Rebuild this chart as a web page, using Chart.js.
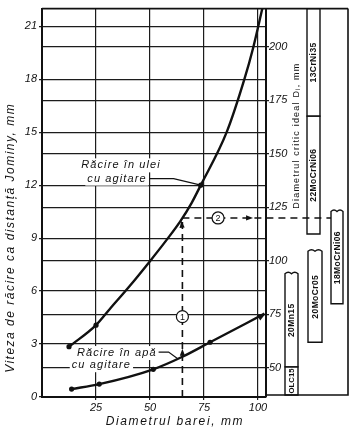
<!DOCTYPE html>
<html><head><meta charset="utf-8">
<script src="https://cdn.jsdelivr.net/npm/chart.js@4.4.1/dist/chart.umd.min.js"></script>
<style>html,body{margin:0;padding:0;background:#fff;}#wrap{width:354px;height:435px;}</style>
</head><body><div id="wrap"><canvas id="c" width="354" height="435"></canvas></div>
<script>
// ---- data ----
const oilX = [12.5, 25, 31.5, 40.7, 49.7, 57.7, 64, 69.3, 73.5, 85.5, 93.7, 97.8, 102];
const oilY = [2.85, 4.07, 5.0, 6.3, 7.65, 8.9, 9.95, 11.0, 12.0, 15.0, 18.0, 19.8, 22.0];
const oilDotX = [12.5, 25, 73.5];
const oilDotY = [2.85, 4.07, 12.0];
const waterX = [13.7, 26.5, 51.5, 65, 77.8, 103];
const waterY = [0.45, 0.73, 1.57, 2.28, 3.1, 4.72];
const waterDotX = [13.7, 26.5, 51.5, 77.8];
const waterDotY = [0.45, 0.73, 1.57, 3.1];
const xTicks = [25, 50, 75, 100];
const jominyTicks = [0, 3, 6, 9, 12, 15, 18, 21];
const diTicks = [50, 75, 100, 125, 150, 175, 200];
const exampleDiameter = 65;   // (1)
const exampleJominy = 10.1;
const exampleDi = 120;        // (2)
const steelNames = ["OLC15", "20Mn15", "20MoCr05", "18MoCrNi06", "22MoCrNi06", "13CrNi35"];
const steelDiMin = [36, 50.5, 62, 80, 112.5, 167.5];
const steelDiMax = [50.5, 94, 104.5, 123, 167.5, 230];
const xTitle = "Diametrul barei, mm";
const yTitle = "Viteza de răcire ca distanță Jominy, mm";
const y2Title = "Diametrul critic ideal Dᵢ, mm";

const FF = '"Liberation Sans", "DejaVu Sans", Arial, sans-serif';
const INK = '#111';

function spacing(ctx, px) { if ('letterSpacing' in ctx) ctx.letterSpacing = px + 'px'; }
function arrowHead(ctx, tx, ty, ang, len, hw) {
  ctx.save();
  ctx.translate(tx, ty); ctx.rotate(ang);
  ctx.beginPath(); ctx.moveTo(0, 0); ctx.lineTo(-len, -hw); ctx.lineTo(-len, hw); ctx.closePath();
  ctx.fillStyle = INK; ctx.fill();
  ctx.restore();
}
function circled(ctx, cx, cy, txt) {
  ctx.save();
  ctx.beginPath(); ctx.arc(cx, cy, 6, 0, Math.PI * 2);
  ctx.fillStyle = '#fff'; ctx.fill();
  ctx.lineWidth = 1.2; ctx.strokeStyle = INK; ctx.stroke();
  ctx.fillStyle = INK; ctx.font = '9px ' + FF; ctx.textAlign = 'center'; ctx.textBaseline = 'middle';
  ctx.fillText(txt, cx, cy + 0.5);
  ctx.restore();
}

const annot = {
  id: 'annot',
  beforeDatasetsDraw(chart) {
    const { ctx, scales: { x, y } } = chart;
    ctx.save();
    ctx.font = 'italic 11px ' + FF;
    spacing(ctx, 1.1);
    ctx.textAlign = 'left'; ctx.textBaseline = 'middle';
    const labels = [
      { t: 'Răcire în ulei', x: 36.6, y: 13.12 },
      { t: 'cu agitare', x: 34.7, y: 12.37 },
      { t: 'Răcire în apă', x: 34.6, y: 2.49 },
      { t: 'cu agitare', x: 27.5, y: 1.80 }
    ];
    const ends = [];
    labels.forEach(l => {
      const w = ctx.measureText(l.t).width;
      const cx = x.getPixelForValue(l.x), cy = y.getPixelForValue(l.y);
      ctx.fillStyle = '#fff';
      ctx.fillRect(cx - w / 2 - 2, cy - 7, w + 4, 14);
      ctx.fillStyle = INK;
      ctx.fillText(l.t, cx - w / 2, cy);
      ends.push({ x: cx + w / 2, y: cy });
    });
    // leader lines
    ctx.strokeStyle = INK; ctx.lineWidth = 1.2;
    ctx.beginPath();
    ctx.moveTo(ends[1].x + 3, ends[1].y);
    ctx.lineTo(ends[1].x + 27, ends[1].y);
    ctx.lineTo(x.getPixelForValue(oilDotX[2]), y.getPixelForValue(oilDotY[2]));
    ctx.stroke();
    ctx.beginPath();
    ctx.moveTo(ends[2].x + 2, ends[2].y - 1);
    ctx.lineTo(ends[2].x + 12, ends[2].y - 1);
    ctx.lineTo(x.getPixelForValue(63), y.getPixelForValue(2.15));
    ctx.stroke();
    ctx.restore();
  },
  afterDatasetsDraw(chart) {
    const { ctx, chartArea: a, scales: { x, y, y2 } } = chart;
    const pr = chart.width - 6;
    ctx.save();
    ctx.strokeStyle = INK; ctx.fillStyle = INK;
    // frame: top line, panel right and bottom
    ctx.lineWidth = 1.6;
    ctx.beginPath();
    ctx.moveTo(a.left, a.top); ctx.lineTo(pr, a.top);
    ctx.moveTo(pr, a.top); ctx.lineTo(pr, a.bottom - 2);
    ctx.lineTo(a.right, a.bottom - 2);
    ctx.stroke();

    // steel ranges
    const cols = { 'OLC15': [19, 32], '20Mn15': [19, 32], '20MoCr05': [42, 56], '18MoCrNi06': [65, 77], '22MoCrNi06': [41, 54], '13CrNi35': [41, 54] };
    const wavy = { '20Mn15': 1, '20MoCr05': 1, '18MoCrNi06': 1 };
    ctx.lineWidth = 1.4;
    steelNames.forEach((n, i) => {
      const xl = a.right + cols[n][0], xr = a.right + cols[n][1];
      const yt = Math.max(a.top, y2.getPixelForValue(steelDiMax[i]));
      const yb = Math.min(a.bottom - 2, y2.getPixelForValue(steelDiMin[i]));
      const w = xr - xl;
      ctx.beginPath();
      if (wavy[n]) {
        ctx.moveTo(xl, yb); ctx.lineTo(xl, yt);
        ctx.quadraticCurveTo(xl + w / 4, yt - 3, xl + w / 2, yt);
        ctx.quadraticCurveTo(xl + 3 * w / 4, yt - 3, xr, yt);
        ctx.lineTo(xr, yb); ctx.closePath();
      } else {
        ctx.rect(xl, yt, w, yb - yt);
      }
      ctx.stroke();
      ctx.save();
      ctx.translate((xl + xr) / 2 + 0.5, (yt + yb) / 2);
      ctx.rotate(-Math.PI / 2);
      let fs = 8.5;
      ctx.font = 'bold ' + fs + 'px ' + FF; spacing(ctx, 0.4);
      const avail = (yb - yt) - 3;
      const tw = ctx.measureText(n).width;
      if (tw > avail) {
        spacing(ctx, 0);
        fs = Math.max(6, fs * avail / ctx.measureText(n).width);
        ctx.font = 'bold ' + fs.toFixed(1) + 'px ' + FF;
      }
      ctx.textAlign = 'center'; ctx.textBaseline = 'middle';
      ctx.fillText(n, 0, 0);
      ctx.restore();
    });

    // panel title
    ctx.save();
    ctx.translate(a.right + 31, a.top + 127);
    ctx.rotate(-Math.PI / 2);
    ctx.font = '9px ' + FF; spacing(ctx, 1.2);
    ctx.textAlign = 'center'; ctx.textBaseline = 'middle';
    ctx.fillText(y2Title, 0, 0);
    ctx.restore();

    // worked example: dashed construction lines
    const px65 = x.getPixelForValue(exampleDiameter);
    const pyOil = y.getPixelForValue(exampleJominy);
    const pyDi = y2.getPixelForValue(exampleDi);
    ctx.lineWidth = 1.6; ctx.setLineDash([7, 5]);
    ctx.beginPath();
    ctx.moveTo(px65, a.bottom); ctx.lineTo(px65, pyOil);
    ctx.moveTo(px65, pyDi); ctx.lineTo(a.right + 65, pyDi);
    ctx.stroke();
    ctx.setLineDash([]);
    const pyWater = y.getPixelForValue(2.28);
    arrowHead(ctx, px65, pyWater - 8, -Math.PI / 2, 7, 2.6);
    arrowHead(ctx, px65 - 1, pyOil + 2, -Math.PI / 2 - 0.1, 7, 2.6);
    arrowHead(ctx, x.getPixelForValue(97.7), pyDi, 0, 7, 2.6);
    circled(ctx, px65, y.getPixelForValue(4.55), '1');
    circled(ctx, x.getPixelForValue(81.5), pyDi, '2');

    // arrow at the end of the water curve
    const n = waterX.length;
    const ex = x.getPixelForValue(waterX[n - 1]), ey = y.getPixelForValue(waterY[n - 1]);
    arrowHead(ctx, ex + 1, ey, -0.55, 8, 3);

    // axis titles
    ctx.font = 'italic 12px ' + FF; spacing(ctx, 1.6);
    ctx.textAlign = 'center'; ctx.textBaseline = 'middle';
    ctx.fillText(xTitle, a.left + 133, 422);
    ctx.save();
    ctx.translate(11, (a.top + a.bottom) / 2 + 35);
    ctx.rotate(-Math.PI / 2);
    spacing(ctx, 1.5);
    ctx.fillText(yTitle, 0, 0);
    ctx.restore();
    ctx.restore();
  }
};

const tickFont = { family: FF, size: 11, style: 'italic' };
const gridStyle = { color: '#1c1c1c', lineWidth: 1.2, tickLength: 3, tickColor: '#1c1c1c' };

new Chart(document.getElementById('c'), {
  type: 'scatter',
  data: {
    datasets: [
      { data: oilX.map((v, i) => ({ x: v, y: oilY[i] })), showLine: true, borderColor: INK, borderWidth: 2.4,
        pointRadius: 0, cubicInterpolationMode: 'monotone', yAxisID: 'y', clip: 4 },
      { data: waterX.map((v, i) => ({ x: v, y: waterY[i] })), showLine: true, borderColor: INK, borderWidth: 2.4,
        pointRadius: 0, cubicInterpolationMode: 'monotone', yAxisID: 'y', clip: 4 },
      { data: oilDotX.map((v, i) => ({ x: v, y: oilDotY[i] })), showLine: false, pointRadius: 2.6,
        pointBackgroundColor: INK, pointBorderWidth: 0, yAxisID: 'y' },
      { data: waterDotX.map((v, i) => ({ x: v, y: waterDotY[i] })), showLine: false, pointRadius: 2.6,
        pointBackgroundColor: INK, pointBorderWidth: 0, yAxisID: 'y' }
    ]
  },
  options: {
    responsive: false, animation: false, devicePixelRatio: 1,
    layout: { padding: { left: 0, right: 6, top: 5, bottom: 0 } },
    plugins: { legend: { display: false }, tooltip: { enabled: false } },
    scales: {
      x: {
        type: 'linear', min: 0, max: 103.7,
        afterBuildTicks: s => { s.ticks = xTicks.map(v => ({ value: v })); },
        afterFit: s => { s.height = 38; },
        grid: gridStyle, border: { color: INK, width: 2 },
        ticks: { color: INK, font: tickFont, padding: 1, maxRotation: 0 }
      },
      y: {
        type: 'linear', position: 'left', min: 0, max: 22,
        afterBuildTicks: s => { s.ticks = jominyTicks.map(v => ({ value: v })); },
        afterFit: s => { s.width = 42; },
        grid: gridStyle, border: { color: INK, width: 2 },
        ticks: { color: INK, font: tickFont, padding: 2 }
      },
      y2: {
        type: 'linear', position: 'right', min: 36.45, max: 217.7,
        afterBuildTicks: s => { s.ticks = diTicks.map(v => ({ value: v })); },
        afterFit: s => { s.width = 82; },
        grid: Object.assign({ drawOnChartArea: true }, gridStyle), border: { color: INK, width: 2 },
        ticks: { color: INK, font: tickFont, padding: 0 }
      }
    }
  },
  plugins: [annot]
});
</script>
</body></html>
